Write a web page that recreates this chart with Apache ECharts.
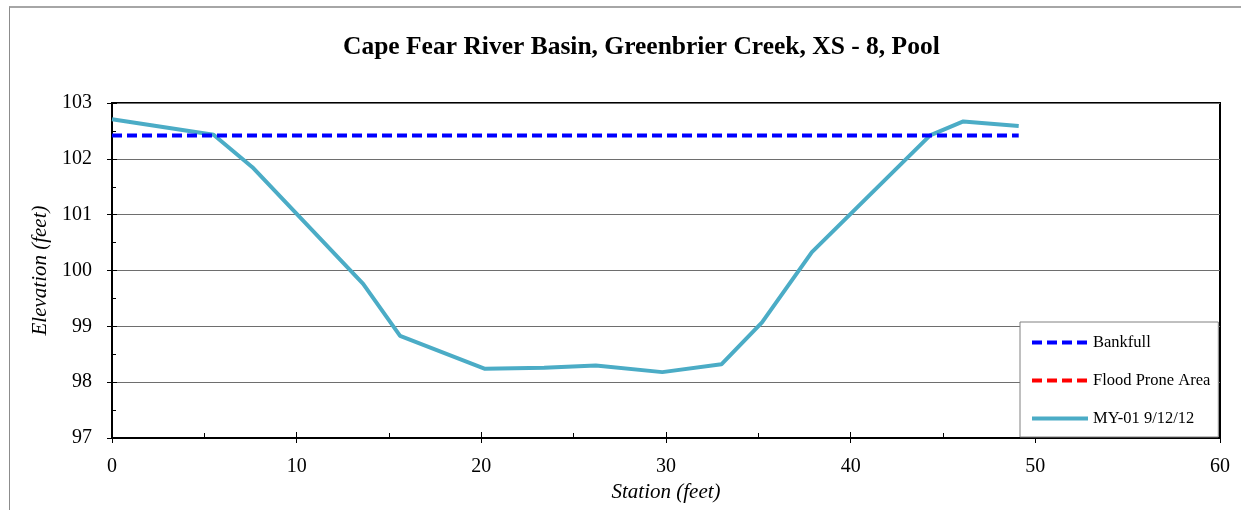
<!DOCTYPE html>
<html>
<head>
<meta charset="utf-8">
<style>
  html, body { margin: 0; padding: 0; background: #fff; }
  #frame { position: absolute; left: 9px; top: 6px; width: 1240px; height: 510px;
           border-left: 1px solid #8c8c8c; border-top: 2px solid #a6a6a6; }
  #chart { position: absolute; left: 0; top: 0; width: 1241px; height: 510px; }
</style>
<script src="https://cdn.jsdelivr.net/npm/echarts@6/dist/echarts.min.js"></script>
</head>
<body>
<div id="frame"></div>
<div id="chart"></div>
<script>
// Cross-section survey, XS-8 (pool)
const titleText = 'Cape Fear River Basin, Greenbrier Creek, XS - 8, Pool';
const stationFt = [0, 5.5, 7.6, 13.6, 15.6, 20.2, 23.4, 26.2, 29.8, 33.0, 35.2, 37.9, 44.3, 46.1, 49.1];
const elevationFt = [102.71, 102.43, 101.85, 99.76, 98.83, 98.24, 98.26, 98.30, 98.18, 98.32, 99.07, 100.33, 102.42, 102.67, 102.59];
const bankfullStation = [0, 49.1];
const bankfullElev = [102.42, 102.42];
const floodProneStation = [];
const floodProneElev = [];
const seriesNames = ['Bankfull', 'Flood Prone Area', 'MY-01 9/12/12'];

const pairs = (xs, ys) => xs.map((x, i) => [x, ys[i]]);
const serif = '"Liberation Serif", "DejaVu Serif", serif';

const chart = echarts.init(document.getElementById('chart'));

const baseX = {
  type: 'value', min: 0, max: 60, interval: 10, position: 'bottom',
  splitLine: { show: false }
};
const baseY = {
  type: 'value', min: 97, max: 103, interval: 1, position: 'left'
};

chart.setOption({
  animation: false,
  title: {
    text: titleText, left: 338, top: 29,
    textStyle: { fontFamily: serif, fontWeight: 'bold', fontSize: 25.5, color: '#000' }
  },
  grid: {
    left: 112, right: 21, top: 103, bottom: 72,
    show: true, borderColor: '#000', borderWidth: 2, backgroundColor: 'transparent'
  },
  legend: {
    orient: 'vertical', left: 1020, top: 322,
    data: seriesNames,
    itemWidth: 56, itemHeight: 14, itemGap: 21,
    padding: [12, 8, 10, 10],
    backgroundColor: '#fff', borderColor: '#808080', borderWidth: 1,
    itemStyle: { opacity: 0 },
    lineStyle: { width: 4 },
    textStyle: { fontFamily: serif, fontSize: 16.5, color: '#000' }
  },
  xAxis: [
    Object.assign({}, baseX, {
      name: 'Station (feet)', nameLocation: 'middle', nameGap: 43,
      nameTextStyle: { fontFamily: serif, fontStyle: 'italic', fontSize: 21, color: '#000' },
      axisLine: { show: true, lineStyle: { color: '#000', width: 2 } },
      axisTick: { show: true, inside: false, length: 5, lineStyle: { color: '#000' } },
      axisLabel: { margin: 19, fontFamily: serif, fontSize: 20, color: '#000' }
    }),
    Object.assign({}, baseX, {
      axisLine: { show: false },
      axisTick: { show: true, inside: true, length: 6, lineStyle: { color: '#000' } },
      minorTick: { show: true, splitNumber: 2, length: 5, lineStyle: { color: '#000' } },
      axisLabel: { show: false }
    })
  ],
  yAxis: [
    Object.assign({}, baseY, {
      name: 'Elevation (feet)', nameLocation: 'middle', nameGap: 57,
      nameTextStyle: { fontFamily: serif, fontStyle: 'italic', fontSize: 21, color: '#000' },
      axisLine: { show: true, lineStyle: { color: '#000', width: 2 } },
      axisTick: { show: true, inside: false, length: 5, lineStyle: { color: '#000' } },
      axisLabel: { margin: 20, fontFamily: serif, fontSize: 20, color: '#000' },
      splitLine: { show: true, lineStyle: { color: '#6e6e6e', width: 1 } }
    }),
    Object.assign({}, baseY, {
      axisLine: { show: false },
      axisTick: { show: true, inside: true, length: 5, lineStyle: { color: '#000' } },
      minorTick: { show: true, splitNumber: 2, length: 4, lineStyle: { color: '#000' } },
      axisLabel: { show: false },
      splitLine: { show: false }
    })
  ],
  series: [
    {
      name: seriesNames[0], type: 'line', symbol: 'none', z: 3,
      data: pairs(bankfullStation, bankfullElev),
      lineStyle: { color: '#0000ff', width: 4, type: [10, 5] },
      itemStyle: { color: '#0000ff' }
    },
    {
      name: seriesNames[1], type: 'line', symbol: 'none', z: 3,
      data: pairs(floodProneStation, floodProneElev),
      lineStyle: { color: '#ff0000', width: 4, type: [10, 5] },
      itemStyle: { color: '#ff0000' }
    },
    {
      name: seriesNames[2], type: 'line', symbol: 'none', z: 2,
      data: pairs(stationFt, elevationFt),
      lineStyle: { color: '#4bacc6', width: 4 },
      itemStyle: { color: '#4bacc6' }
    }
  ]
});
</script>
</body>
</html>
